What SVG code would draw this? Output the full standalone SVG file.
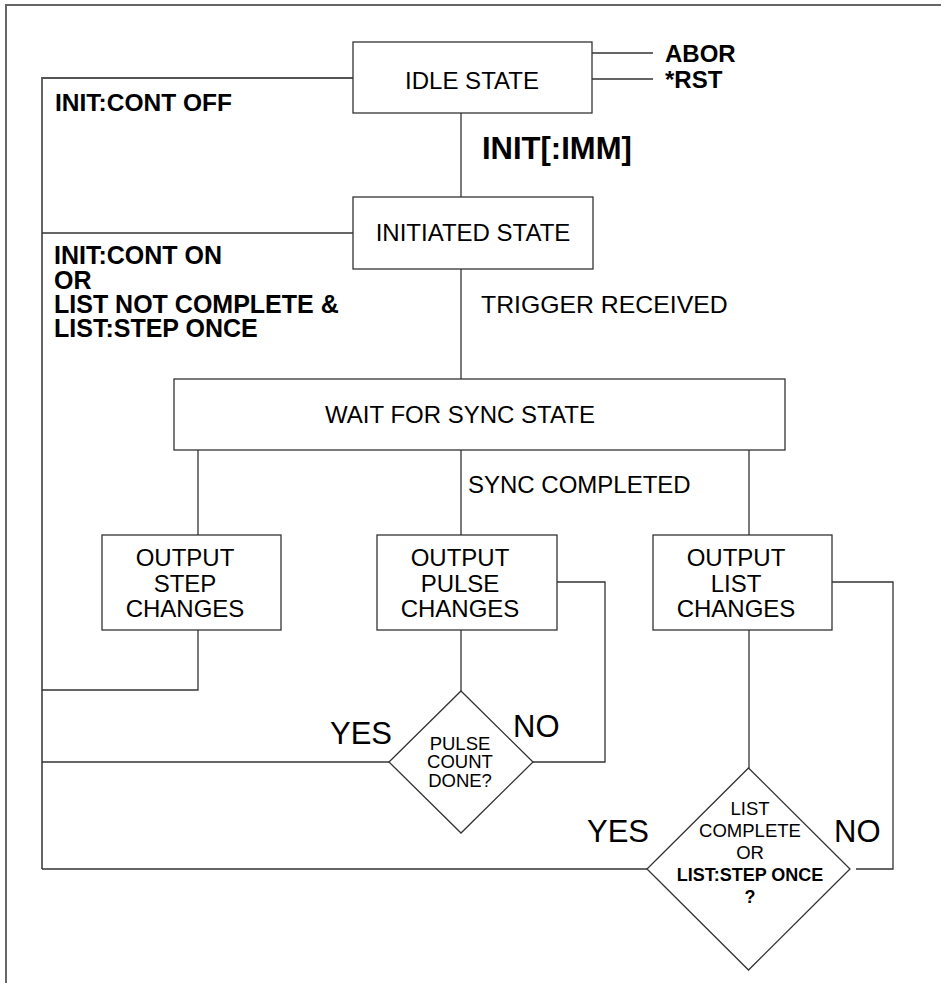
<svg xmlns="http://www.w3.org/2000/svg" width="941" height="983" viewBox="0 0 941 983">
<style>
.bg{fill:#fff}
.box{fill:#fff;stroke:#333;stroke-width:1.3}
.ln{fill:none;stroke:#333;stroke-width:1.3}
.frame{fill:none;stroke:#666;stroke-width:2}
.gl{fill:none;stroke:#555;stroke-width:1.8}
text{font-family:"Liberation Sans",Arial,sans-serif;fill:#000}
.t{font-size:24px}
.tm{font-size:24px;text-anchor:middle}
.b{font-weight:bold}
.d{font-size:18.5px;text-anchor:middle}
.big{font-size:31px}
</style>
<rect class="bg" x="0" y="0" width="941" height="983"/>
<path class="frame" d="M6,983 V5 H941"/>
<g id="connectors">
<path class="gl" d="M353,78 H42 V869"/>
<path class="ln" d="M353,233 H42"/>
<path class="ln" d="M592,53 H653 M592,79 H653"/>
<path class="ln" d="M461,113 V197"/>
<path class="ln" d="M461,269 V379"/>
<path class="ln" d="M198,450 V535 M461,450 V535 M749,450 V535"/>
<path class="ln" d="M198,630 V690 H42"/>
<path class="ln" d="M461,630 V691"/>
<path class="ln" d="M389,762 H42"/>
<path class="ln" d="M533,762 H605 V582 H557"/>
<path class="ln" d="M749,630 V768"/>
<path class="ln" d="M647,869 H42"/>
<path class="ln" d="M856,869 H893 V582 H832"/>
</g>
<g id="idle">
<rect class="box" x="353" y="42" width="239" height="71"/>
<text class="tm" x="472" y="89">IDLE STATE</text>
</g>
<g id="abor-labels">
<text class="t b" x="665" y="62">ABOR</text>
<text class="t b" x="665" y="88">*RST</text>
</g>
<g id="cont-off-label">
<text class="b" style="font-size:24.5px" x="55" y="111">INIT:CONT OFF</text>
</g>
<g id="init-imm-label">
<text class="big b" x="482" y="159">INIT[:IMM]</text>
</g>
<g id="initiated">
<rect class="box" x="353" y="197" width="240" height="72"/>
<text class="tm" x="473" y="241">INITIATED STATE</text>
</g>
<g id="cont-on-label">
<text class="b" style="font-size:25px" x="54" y="264">INIT:CONT ON</text>
<text class="b" style="font-size:25px" x="54" y="289">OR</text>
<text class="b" style="font-size:25px" x="54" y="313">LIST NOT COMPLETE &amp;</text>
<text class="b" style="font-size:25px" x="54" y="337">LIST:STEP ONCE</text>
</g>
<g id="trigger-label">
<text style="font-size:24.8px" x="481" y="313">TRIGGER RECEIVED</text>
</g>
<g id="wait">
<rect class="box" x="174" y="379" width="611" height="71"/>
<text class="tm" x="460" y="423">WAIT FOR SYNC STATE</text>
</g>
<g id="sync-label">
<text class="t" x="468" y="493">SYNC COMPLETED</text>
</g>
<g id="step">
<rect class="box" x="102" y="535" width="179" height="95"/>
<text class="tm" x="185" y="566">OUTPUT</text>
<text class="tm" x="185" y="592">STEP</text>
<text class="tm" x="185" y="617">CHANGES</text>
</g>
<g id="pulse">
<rect class="box" x="377" y="535" width="180" height="95"/>
<text class="tm" x="460" y="566">OUTPUT</text>
<text class="tm" x="460" y="592">PULSE</text>
<text class="tm" x="460" y="617">CHANGES</text>
</g>
<g id="list">
<rect class="box" x="653" y="535" width="179" height="95"/>
<text class="tm" x="736" y="566">OUTPUT</text>
<text class="tm" x="736" y="592">LIST</text>
<text class="tm" x="736" y="617">CHANGES</text>
</g>
<g id="pulse-done">
<polygon class="box" points="461,691 533,762 461,833 389,762"/>
<text class="d" x="460" y="750">PULSE</text>
<text class="d" x="460" y="768">COUNT</text>
<text class="d" x="460" y="787">DONE?</text>
</g>
<g id="pulse-labels">
<text class="big" x="330" y="744">YES</text>
<text class="big" x="513" y="737">NO</text>
</g>
<g id="list-done">
<polygon class="box" points="748.5,768 850,869 748.5,970 647,869"/>
<text class="d" x="750" y="815">LIST</text>
<text class="d" x="750" y="837">COMPLETE</text>
<text class="d" x="750" y="859">OR</text>
<text class="d b" style="font-size:18px" x="750" y="881">LIST:STEP ONCE</text>
<text class="d b" style="font-size:18px" x="750" y="903">?</text>
</g>
<g id="list-labels">
<text class="big" x="587" y="842">YES</text>
<text class="big" x="834" y="842">NO</text>
</g>
</svg>
